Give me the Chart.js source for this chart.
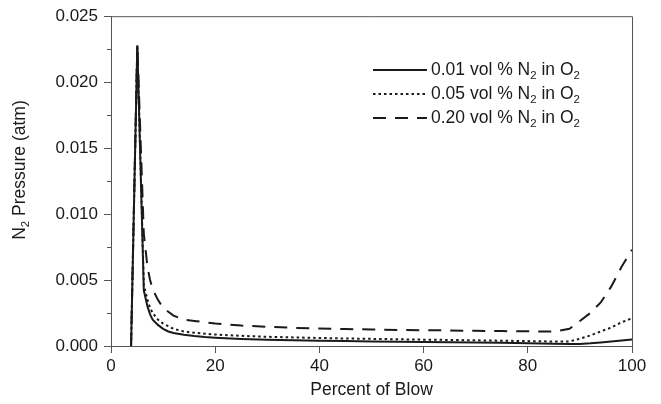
<!DOCTYPE html>
<html><head><meta charset="utf-8">
<script src="https://cdn.jsdelivr.net/npm/chart.js@4"></script>
<style>html,body{margin:0;padding:0;background:#fff}#wrap{width:661px;height:404px}</style>
</head><body><div id="wrap"><canvas id="c" width="661" height="404"></canvas></div>
<script>
const percentOfBlow = [3.85, 5.05, 6.3, 7, 7.5, 8, 9, 10, 11, 12, 14, 16, 18, 20, 25, 30, 35, 40, 45, 50, 55, 60, 65, 70, 75, 80, 85, 88, 90, 92, 94, 96, 98, 100];
const n2_001 = [0, 0.0228, 0.0042, 0.0030, 0.0024, 0.0020, 0.0016, 0.0013, 0.0011, 0.00098, 0.00085, 0.00075, 0.00068, 0.00063, 0.00053, 0.00047, 0.00043, 0.00040, 0.00037, 0.00034, 0.00032, 0.00030, 0.00028, 0.00026, 0.00024, 0.00021, 0.00018, 0.00016, 0.00016, 0.00020, 0.00027, 0.00034, 0.00042, 0.00050];
const n2_005 = [0, 0.0228, 0.0046, 0.0035, 0.0029, 0.0025, 0.0020, 0.0017, 0.0015, 0.0013, 0.0011, 0.0010, 0.00093, 0.00087, 0.00077, 0.00070, 0.00065, 0.00061, 0.00057, 0.00054, 0.00051, 0.00048, 0.00046, 0.00043, 0.00040, 0.00037, 0.00034, 0.00035, 0.00055, 0.0008, 0.0011, 0.0014, 0.0018, 0.0021];
const n2_020 = [0, 0.0228, 0.0085, 0.0060, 0.0050, 0.0043, 0.0035, 0.0029, 0.0026, 0.0023, 0.0020, 0.0019, 0.0018, 0.0017, 0.00155, 0.00145, 0.00138, 0.00132, 0.00128, 0.00125, 0.00122, 0.00120, 0.00118, 0.00115, 0.00113, 0.00111, 0.00110, 0.0013, 0.0019, 0.0025, 0.0033, 0.0045, 0.0060, 0.0073];
const seriesLabels = ['0.01 vol % N_2 in O_2', '0.05 vol % N_2 in O_2', '0.20 vol % N_2 in O_2'];
const xTickValues = [0, 20, 40, 60, 80, 100];
const yMajorTicks = [0, 0.005, 0.010, 0.015, 0.020, 0.025];
const yMinorTicks = [0.0025, 0.0075, 0.0125, 0.0175, 0.0225];
const xTitle = 'Percent of Blow';
const yTitle = 'N_2 Pressure (atm)';

const FONT = '"Liberation Sans", Arial, Helvetica, sans-serif';
const INK = '#1a1a1a';
const AXIS = '#555';

function pts(ys) { return percentOfBlow.map((x, i) => ({x: x, y: ys[i]})); }

function richWidth(ctx, str, size) {
  let w = 0;
  str.split(/(_\d)/).forEach(p => {
    if (!p) return;
    if (p[0] === '_') { ctx.font = (size * 0.65) + 'px ' + FONT; w += ctx.measureText(p.slice(1)).width; }
    else { ctx.font = size + 'px ' + FONT; w += ctx.measureText(p).width; }
  });
  return w;
}
function drawRich(ctx, str, x, y, size) {
  ctx.textBaseline = 'middle';
  ctx.textAlign = 'left';
  str.split(/(_\d)/).forEach(p => {
    if (!p) return;
    if (p[0] === '_') {
      ctx.font = (size * 0.65) + 'px ' + FONT;
      ctx.fillText(p.slice(1), x, y + size * 0.35);
      x += ctx.measureText(p.slice(1)).width;
    } else {
      ctx.font = size + 'px ' + FONT;
      ctx.fillText(p, x, y);
      x += ctx.measureText(p).width;
    }
  });
}

const decor = {
  id: 'decor',
  afterDatasetsDraw(chart) {
    const ctx = chart.ctx, a = chart.chartArea, ys = chart.scales.y;
    ctx.save();
    ctx.strokeStyle = AXIS; ctx.lineWidth = 1;
    ctx.beginPath();
    ctx.moveTo(a.left, a.top + 0.5); ctx.lineTo(a.right + 0.5, a.top + 0.5);
    ctx.lineTo(a.right + 0.5, a.bottom);
    ctx.stroke();
    ctx.beginPath();
    yMinorTicks.forEach(v => {
      const py = Math.round(ys.getPixelForValue(v)) + 0.5;
      ctx.moveTo(a.left - 4, py); ctx.lineTo(a.left, py);
    });
    ctx.stroke();
    const lx0 = 373, lx1 = 427, tx = 431, rows = [70, 94, 118];
    chart.data.datasets.forEach((ds, i) => {
      ctx.strokeStyle = ds.borderColor; ctx.lineWidth = ds.borderWidth;
      ctx.setLineDash(ds.borderDash || []);
      ctx.beginPath(); ctx.moveTo(lx0, rows[i]); ctx.lineTo(lx1, rows[i]); ctx.stroke();
      ctx.setLineDash([]);
      ctx.fillStyle = INK;
      drawRich(ctx, seriesLabels[i], tx, rows[i], 17.5);
    });
    ctx.translate(20, 170);
    ctx.rotate(-Math.PI / 2);
    ctx.fillStyle = INK;
    const w = richWidth(ctx, yTitle, 17.5);
    drawRich(ctx, yTitle, -w / 2, 0, 17.5);
    ctx.restore();
  }
};

const lineBase = {borderColor: INK, borderWidth: 2, pointRadius: 0, fill: false, tension: 0};

new Chart(document.getElementById('c'), {
  type: 'line',
  data: {
    datasets: [
      Object.assign({label: seriesLabels[0], data: pts(n2_001)}, lineBase),
      Object.assign({label: seriesLabels[1], data: pts(n2_005), borderDash: [2.5, 3]}, lineBase),
      Object.assign({label: seriesLabels[2], data: pts(n2_020), borderDash: [13, 9]}, lineBase)
    ]
  },
  options: {
    responsive: false, animation: false, devicePixelRatio: 1,
    layout: {padding: {left: 0, right: 29, top: 15, bottom: 0}},
    plugins: {legend: {display: false}, tooltip: {enabled: false}},
    scales: {
      x: {
        type: 'linear', min: 0, max: 100,
        afterBuildTicks: s => { s.ticks = xTickValues.map(v => ({value: v})); },
        afterFit: s => { s.height = 58; },
        ticks: {font: {size: 17, family: FONT}, color: INK, padding: 3, callback: v => String(v)},
        grid: {drawOnChartArea: false, drawTicks: true, tickLength: 7, color: AXIS, tickColor: AXIS},
        border: {display: true, color: AXIS, width: 1},
        title: {display: true, text: xTitle, font: {size: 17.5, family: FONT}, color: INK, padding: {top: 0, bottom: 3}}
      },
      y: {
        type: 'linear', min: 0, max: 0.025,
        afterBuildTicks: s => { s.ticks = yMajorTicks.map(v => ({value: v})); },
        afterFit: s => { s.width = 111; },
        ticks: {font: {size: 17, family: FONT}, color: INK, padding: 6, callback: v => Number(v).toFixed(3)},
        grid: {drawOnChartArea: false, drawTicks: true, tickLength: 7, color: AXIS, tickColor: AXIS},
        border: {display: true, color: AXIS, width: 1}
      }
    }
  },
  plugins: [decor]
});
</script></body></html>
